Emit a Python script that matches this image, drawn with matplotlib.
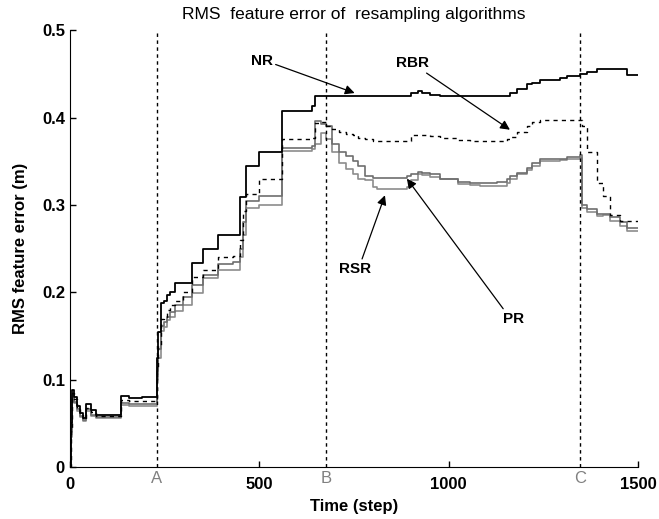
import matplotlib
matplotlib.use("Agg")
import matplotlib.pyplot as plt

plt.rcParams['font.family'] = ['Liberation Sans', 'DejaVu Sans']

steps = [0, 3, 6, 12, 20, 28, 36, 42, 55, 70, 135, 155, 190, 226, 230, 234, 240, 248, 256, 265,
         278, 300, 322, 352, 392, 430, 450, 458, 466, 500, 560, 640, 648, 662, 676, 692, 712, 730,
         748, 760, 780, 800, 812, 832, 862, 890, 900, 920, 930, 950, 978, 1025, 1056, 1082, 1128,
         1155, 1162, 1180, 1206, 1220, 1242, 1294, 1312, 1347, 1352, 1365, 1392, 1408, 1426, 1452,
         1470, 1500]

nr = [0.0, 0.05, 0.088, 0.08, 0.07, 0.062, 0.056, 0.072, 0.065, 0.06, 0.081, 0.079, 0.08, 0.08,
      0.125, 0.155, 0.188, 0.19, 0.197, 0.2, 0.211, 0.211, 0.234, 0.249, 0.265, 0.265, 0.309, 0.309,
      0.345, 0.36, 0.408, 0.413, 0.425, 0.425, 0.425, 0.425, 0.425, 0.425, 0.425, 0.425, 0.425,
      0.425, 0.425, 0.425, 0.425, 0.425, 0.428, 0.43, 0.428, 0.426, 0.425, 0.425, 0.425, 0.425,
      0.425, 0.425, 0.428, 0.433, 0.438, 0.44, 0.443, 0.445, 0.447, 0.45, 0.45, 0.452, 0.455,
      0.456, 0.456, 0.456, 0.449, 0.449]

rbr = [0.0, 0.045, 0.085, 0.078, 0.068, 0.06, 0.055, 0.068, 0.063, 0.058, 0.077, 0.076, 0.076,
       0.076, 0.115, 0.14, 0.17, 0.172, 0.18, 0.185, 0.19, 0.2, 0.217, 0.226, 0.24, 0.242, 0.26,
       0.293, 0.313, 0.33, 0.375, 0.376, 0.394, 0.395, 0.39, 0.387, 0.383, 0.381, 0.38, 0.377,
       0.375, 0.373, 0.373, 0.373, 0.373, 0.373, 0.38, 0.38, 0.38, 0.379, 0.377, 0.374, 0.373,
       0.373, 0.373, 0.375, 0.378, 0.383, 0.39, 0.395, 0.397, 0.397, 0.397, 0.397, 0.39, 0.36,
       0.325, 0.31, 0.288, 0.282, 0.282, 0.282]

pr = [0.0, 0.04, 0.082, 0.075, 0.066, 0.058, 0.054, 0.066, 0.06, 0.057, 0.073, 0.072, 0.072,
      0.072, 0.11, 0.135, 0.162, 0.166, 0.172, 0.178, 0.185, 0.195, 0.208, 0.22, 0.232, 0.235,
      0.25, 0.28, 0.305, 0.31, 0.365, 0.367, 0.396, 0.392, 0.39, 0.37, 0.36, 0.356, 0.35, 0.345,
      0.333, 0.331, 0.331, 0.331, 0.331, 0.333, 0.335, 0.338, 0.337, 0.335, 0.33, 0.326, 0.325,
      0.325, 0.326, 0.33, 0.333, 0.337, 0.342, 0.348, 0.352, 0.353, 0.355, 0.357, 0.3, 0.295,
      0.29, 0.29, 0.286, 0.28, 0.274, 0.274]

rsr = [0.0, 0.035, 0.08, 0.073, 0.064, 0.057, 0.053, 0.064, 0.059, 0.056, 0.071, 0.07, 0.07,
       0.07, 0.1, 0.125, 0.156, 0.16, 0.168, 0.172, 0.179, 0.185, 0.199, 0.216, 0.225, 0.225,
       0.24, 0.265, 0.296, 0.3, 0.362, 0.364, 0.37, 0.382, 0.375, 0.36, 0.348, 0.341, 0.335, 0.33,
       0.328, 0.321, 0.318, 0.318, 0.318, 0.32, 0.328, 0.335, 0.334, 0.332, 0.33, 0.324, 0.323,
       0.322, 0.322, 0.325, 0.33, 0.335, 0.34, 0.345, 0.35, 0.351, 0.352, 0.354, 0.297, 0.292,
       0.287, 0.288, 0.282, 0.276, 0.27, 0.27]

events = [230, 676, 1347]
event_labels = ['A', 'B', 'C']
xticks = [0, 500, 1000, 1500]
yticks = [0, 0.1, 0.2, 0.3, 0.4, 0.5]

fig = plt.figure(figsize=(6.59, 5.19), dpi=100)
ax = fig.add_axes([0.106, 0.100, 0.862, 0.842])

ax.plot(steps, rsr, drawstyle='steps-post', color='#8c8c8c', lw=1.2)
ax.plot(steps, pr, drawstyle='steps-post', color='#6e6e6e', lw=1.2)
ax.plot(steps, rbr, drawstyle='steps-post', color='black', lw=1.0, linestyle=(0, (3, 3)))
ax.plot(steps, nr, drawstyle='steps-post', color='black', lw=1.3)

for e, lab in zip(events, event_labels):
    ax.axvline(e, color='black', lw=1.0, linestyle=(0, (2.5, 2.5)))
    ax.text(e, -0.005, lab, color='#808080', ha='center', va='top', fontsize=12)

ax.set_xlim(0, 1500)
ax.set_ylim(0, 0.5)
ax.set_xticks(xticks)
ax.set_yticks(yticks)
ax.set_xticklabels([str(x) for x in xticks], fontweight='bold', fontsize=12)
ax.set_yticklabels(['0', '0.1', '0.2', '0.3', '0.4', '0.5'], fontweight='bold', fontsize=12)
ax.tick_params(direction='in', length=4, width=1)
ax.tick_params(axis='x', pad=7)
for s in ['top', 'right']:
    ax.spines[s].set_visible(False)

ax.set_xlabel('Time (step)', fontweight='bold', fontsize=12, labelpad=5)
ax.set_ylabel('RMS feature error (m)', fontweight='bold', fontsize=12, labelpad=10)
ax.set_title('RMS  feature error of  resampling algorithms', fontsize=12.5, pad=8)

arrow = dict(arrowstyle='-|>', color='black', lw=0.9, mutation_scale=14,
             shrinkA=0, shrinkB=0)
ax.annotate('NR', xy=(752, 0.428), xytext=(507, 0.465), fontweight='bold', fontsize=11,
            ha='center', va='center', arrowprops=dict(arrow, relpos=(1.0, 0.3)))
ax.annotate('RBR', xy=(1162, 0.386), xytext=(905, 0.462), fontweight='bold', fontsize=11,
            ha='center', va='center', arrowprops=dict(arrow, relpos=(0.8, 0.0)))
ax.annotate('RSR', xy=(832, 0.311), xytext=(752, 0.227), fontweight='bold', fontsize=11,
            ha='center', va='center', arrowprops=dict(arrow, relpos=(0.7, 1.0)))
ax.annotate('PR', xy=(890, 0.33), xytext=(1172, 0.17), fontweight='bold', fontsize=11,
            ha='center', va='center', arrowprops=dict(arrow, relpos=(0.1, 1.0)))

fig.savefig('out.png', dpi=100)
